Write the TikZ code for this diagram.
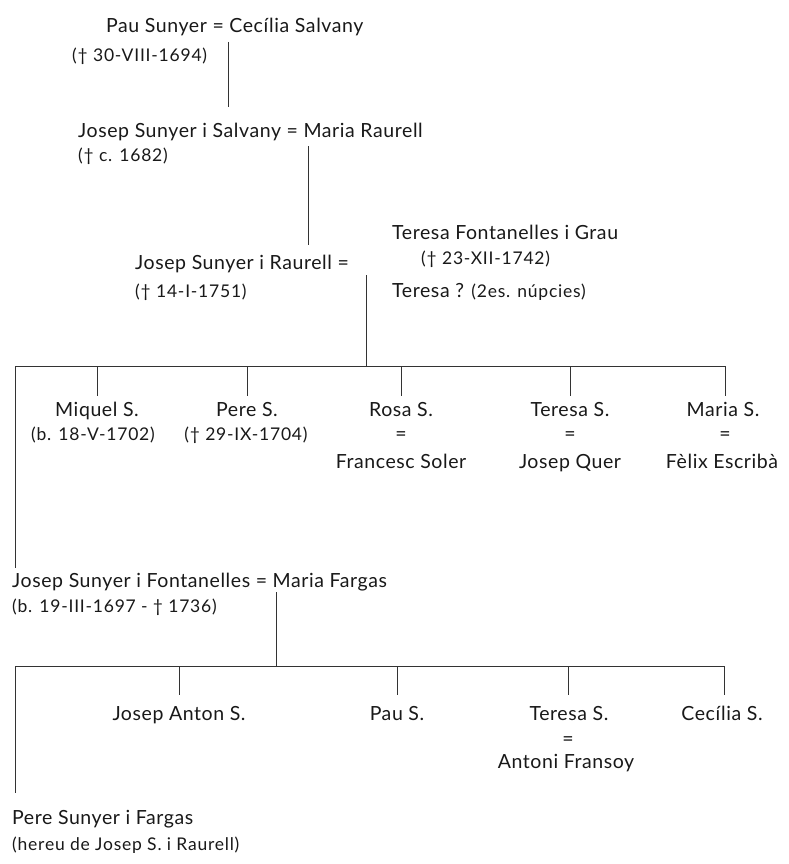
\documentclass[tikz,border=0pt]{standalone}
\usepackage{fontspec}
\setmainfont{Lato}[LetterSpace=3]
\newfontfamily\dtfont{Lato}[LetterSpace=4.5]
\begin{document}
\begin{tikzpicture}[x=1pt,y=-1pt,
  nm/.style={inner sep=0pt,text=black!90,font=\fontsize{19.5}{22}\selectfont},
  dt/.style={inner sep=0pt,text=black!90,font=\dtfont\fontsize{17.5}{20}\selectfont},
  ln/.style={draw=black!80,line width=0.8pt}]
\useasboundingbox[fill=white] (0,0) rectangle (789,864);

% generation 1
\node[nm,anchor=base west] (pau) at (106,33) {Pau Sunyer = Cecília Salvany};
\node[dt,anchor=base west] (pauD) at (72,62) {(† 30-VIII-1694)};
\coordinate (v1t) at (228,42);
\coordinate (v1b) at (228,107);
\draw[ln] (v1t) -- (v1b);

% generation 2
\node[nm,anchor=base west] (jss) at (78,137) {Josep Sunyer i Salvany = Maria Raurell};
\node[dt,anchor=base west] (jssD) at (78,161) {(† c. 1682)};
\coordinate (v2t) at (308,146);
\coordinate (v2b) at (308,245);
\draw[ln] (v2t) -- (v2b);

% generation 3
\node[nm,anchor=base west] (jsr) at (135,269) {Josep Sunyer i Raurell =};
\node[dt,anchor=base west] (jsrD) at (135,297) {(† 14-I-1751)};
\node[nm,anchor=base west] (tfg) at (392,239) {Teresa Fontanelles i Grau};
\node[dt,anchor=base west] (tfgD) at (421,264) {(† 23-XII-1742)};
\node[nm,anchor=base west] (ter) at (392,297) {Teresa ? {\dtfont\fontsize{17.5}{20}\selectfont (2es. núpcies)}};
\coordinate (v3t) at (366,275);
\coordinate (b1m) at (366,366);
\coordinate (b1L) at (15,366);
\coordinate (b1R) at (725,366);
\draw[ln] (v3t) -- (b1m);
\draw[ln] (b1L) -- (b1R);

% children of generation 3
\coordinate (d11) at (97,396);
\coordinate (d12) at (247,396);
\coordinate (d13) at (401,396);
\coordinate (d14) at (570,396);
\coordinate (d15) at (725,396);
\foreach \d in {d11,d12,d13,d14,d15} \draw[ln] (\d |- b1L) -- (\d);
\node[nm,anchor=base] (miq) at (97,416) {Miquel S.};
\node[dt,anchor=base] (miqD) at (93,440) {(b. 18-V-1702)};
\node[nm,anchor=base] (per) at (247,416) {Pere S.};
\node[dt,anchor=base] (perD) at (246,440) {(† 29-IX-1704)};
\node[nm,anchor=base] (ros) at (401,416) {Rosa S.};
\node[nm,anchor=base] (rosE) at (401,440) {=};
\node[nm,anchor=base] (rosH) at (401,468) {Francesc Soler};
\node[nm,anchor=base] (tes) at (570,416) {Teresa S.};
\node[nm,anchor=base] (tesE) at (570,440) {=};
\node[nm,anchor=base] (tesH) at (570,468) {Josep Quer};
\node[nm,anchor=base] (mar) at (723,416) {Maria S.};
\node[nm,anchor=base] (marE) at (725,440) {=};
\node[nm,anchor=base] (marH) at (722,468) {Fèlix Escribà};
\coordinate (l1b) at (15,568);
\draw[ln] (b1L) -- (l1b);

% generation 4
\node[nm,anchor=base west] (jsf) at (12,587) {Josep Sunyer i Fontanelles = Maria Fargas};
\node[dt,anchor=base west] (jsfD) at (12,612) {(b. 19-III-1697 - † 1736)};
\coordinate (v4t) at (276,592);
\coordinate (b2m) at (276,666);
\coordinate (b2L) at (15,666);
\coordinate (b2R) at (724,666);
\draw[ln] (v4t) -- (b2m);
\draw[ln] (b2L) -- (b2R);

% children of generation 4
\coordinate (d21) at (179,695);
\coordinate (d22) at (397,695);
\coordinate (d23) at (568,695);
\coordinate (d24) at (724,695);
\foreach \d in {d21,d22,d23,d24} \draw[ln] (\d |- b2L) -- (\d);
\node[nm,anchor=base] (jan) at (179,720) {Josep Anton S.};
\node[nm,anchor=base] (pa2) at (397,720) {Pau S.};
\node[nm,anchor=base] (te2) at (569,720) {Teresa S.};
\node[nm,anchor=base] (te2E) at (568,745) {=};
\node[nm,anchor=base] (te2H) at (566,768) {Antoni Fransoy};
\node[nm,anchor=base] (cec) at (722,720) {Cecília S.};
\coordinate (l2b) at (15,793);
\draw[ln] (b2L) -- (l2b);

% generation 5
\node[nm,anchor=base west] (psf) at (12,824) {Pere Sunyer i Fargas};
\node[dt,anchor=base west] (psfD) at (12,850) {(hereu de Josep S. i Raurell)};
\end{tikzpicture}
\end{document}
